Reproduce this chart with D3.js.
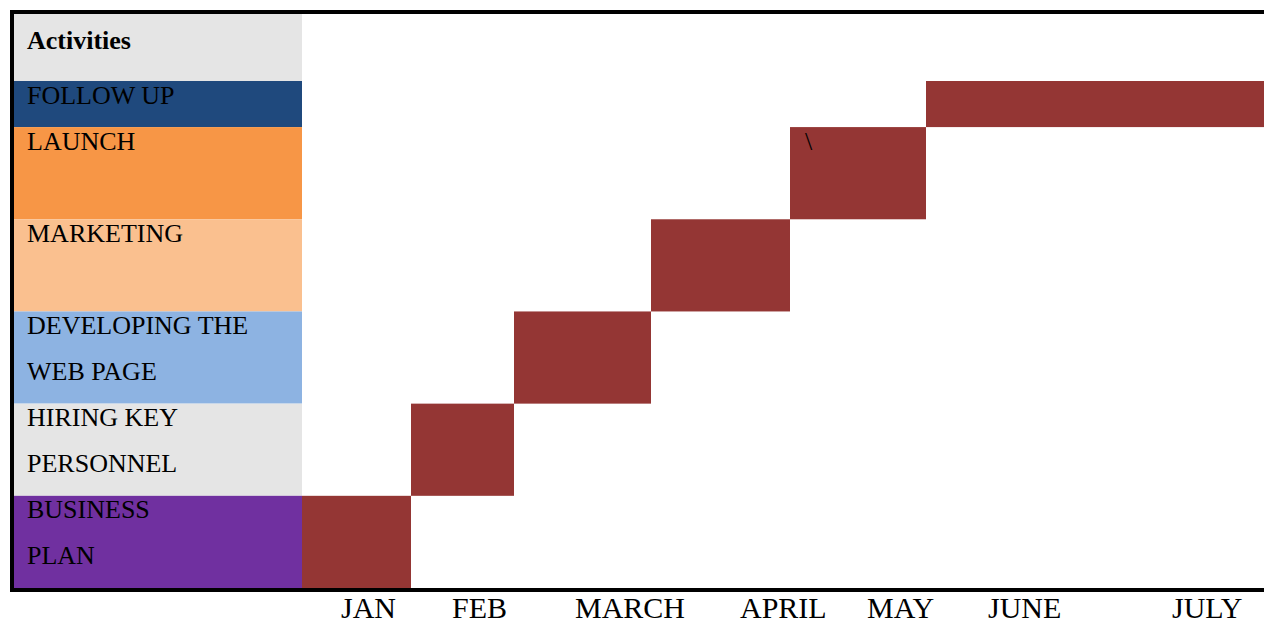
<!DOCTYPE html>
<html>
<head>
<meta charset="utf-8">
<script src="https://cdn.jsdelivr.net/npm/d3@7"></script>
<style>
  html, body { margin: 0; padding: 0; background: #fff; }
  svg { display: block; }
  text { font-family: "Liberation Serif", "Times New Roman", serif; fill: #000; }
</style>
</head>
<body>
<svg id="chart" width="1264" height="621"></svg>
<script>
// Activities, top to bottom, with the text lines shown in each row
const activities = ["FOLLOW UP", "LAUNCH", "MARKETING", "DEVELOPING THE WEB PAGE", "HIRING KEY PERSONNEL", "BUSINESS PLAN"];
const labelLines = [["FOLLOW UP"], ["LAUNCH"], ["MARKETING"], ["DEVELOPING THE", "WEB PAGE"], ["HIRING KEY", "PERSONNEL"], ["BUSINESS", "PLAN"]];
const rowLines = [1, 2, 2, 2, 2, 2];
const rowColors = ["#1f497d", "#f79646", "#fac08f", "#8db3e2", "#e5e5e5", "#7030a0"];
// Schedule in month units (0 = start of January)
const startMonth = [5, 4, 3, 2, 1, 0];
const endMonth = [7, 5, 4, 3, 2, 1];
const months = ["JAN", "FEB", "MARCH", "APRIL", "MAY", "JUNE", "JULY"];
const notes = ["", "\\", "", "", "", ""];

const svg = d3.select("#chart");

// Table columns are not of even width, so the month scale is piecewise
const x = d3.scaleLinear()
  .domain([0, 1, 2, 3, 4, 5, 7])
  .range([302, 411, 514, 651, 790, 926, 1264]);

// Rows are measured in text lines
const y = d3.scaleLinear().domain([0, 11]).range([81, 588]);
const offsets = d3.cumsum([0, ...rowLines]);

const rows = activities.map((name, i) => ({
  name, i,
  lines: labelLines[i],
  y0: y(offsets[i]),
  y1: y(offsets[i + 1]),
  start: startMonth[i],
  end: endMonth[i],
  color: rowColors[i],
  note: notes[i]
}));

// Header cell
svg.append("rect").attr("x", 14).attr("y", 14).attr("width", 288).attr("height", 67).attr("fill", "#e5e5e5");
svg.append("text").attr("x", 27).attr("y", 49)
  .attr("font-size", 26).attr("font-weight", "bold").text("Activities");

// Activity label cells
const g = svg.selectAll("g.row").data(rows).join("g").attr("class", "row");
g.append("rect")
  .attr("x", 14).attr("y", d => d.y0)
  .attr("width", 288).attr("height", d => d.y1 - d.y0)
  .attr("fill", d => d.color);
g.each(function (d) {
  d3.select(this).selectAll("text.lbl").data(d.lines).join("text")
    .attr("class", "lbl")
    .attr("x", 27)
    .attr("y", (t, k) => d.y0 + 22.5 + k * (y(1) - y(0)))
    .attr("font-size", 26)
    .text(t => t);
});

// Bars
g.append("rect")
  .attr("x", d => x(d.start)).attr("y", d => d.y0)
  .attr("width", d => x(d.end) - x(d.start)).attr("height", d => d.y1 - d.y0)
  .attr("fill", "#943634");
g.filter(d => d.note).append("text")
  .attr("x", d => x(d.start) + 15).attr("y", d => d.y0 + 23)
  .attr("font-size", 26)
  .text(d => d.note);

// Frame
svg.append("path")
  .attr("d", "M1264,12H12V590H1264")
  .attr("fill", "none").attr("stroke", "#000").attr("stroke-width", 4);

// Month labels under the table
const monthX = d3.scaleOrdinal().domain(months).range([341, 452, 575, 740, 867, 988, 1172]);
svg.selectAll("text.month").data(months).join("text")
  .attr("class", "month")
  .attr("x", m => monthX(m)).attr("y", 618)
  .attr("font-size", 30)
  .text(m => m);
</script>
</body>
</html>
